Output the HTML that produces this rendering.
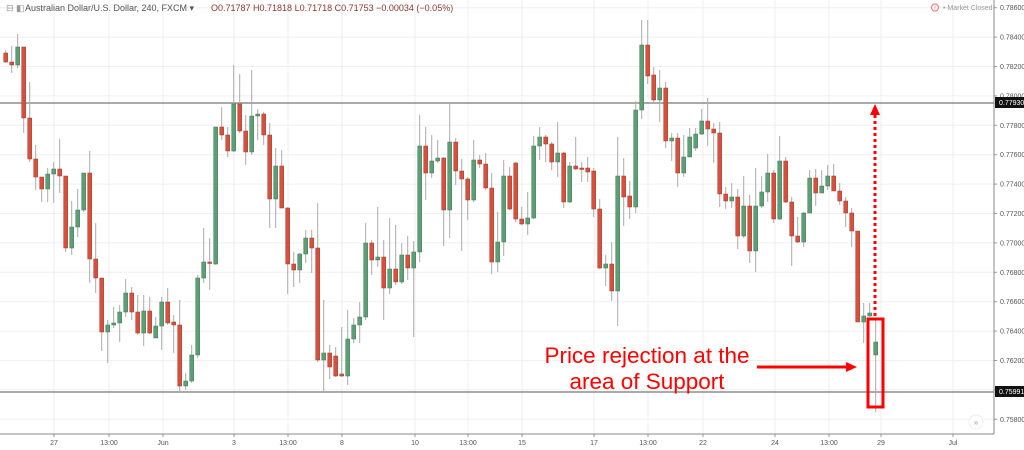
<!DOCTYPE html>
<html><head><meta charset="utf-8"><style>
body{margin:0;background:#fff;width:1024px;height:450px;overflow:hidden;font-family:"Liberation Sans",sans-serif}
svg{display:block}
</style></head><body>
<svg id="s" width="1024" height="450" xmlns="http://www.w3.org/2000/svg" font-family="Liberation Sans, sans-serif"></svg>
<script>
var d=[[53,62,50,63],[62,65,46,73],[65,47,34,68],[47,118,47,133],[118,159,82,162],[159,177,145,190],[177,189,177,202],[189,174,168,202],[174,169,162,203],[169,176,139,193],[176,248,176,252],[248,227,201,255],[227,210,189,237],[210,173,173,212],[173,259,151,283],[259,278,223,293],[278,332,278,351],[332,325,320,363],[325,323,307,328],[323,312,305,342],[312,293,279,317],[293,312,287,320],[312,333,295,335],[333,311,295,346],[311,333,297,334],[338,326,317,338],[326,302,297,350],[302,323,288,325],[322,325,315,353],[325,386,300,392],[386,381,373,390],[381,355,345,383],[355,278,275,358],[278,262,228,283],[262,263,238,290],[264,127,127,265],[127,135,107,140],[135,151,127,157],[151,104,65,152],[104,131,74,133],[131,152,115,165],
[152,116,70,155],[116,114,109,140],[114,135,112,145],[135,199,123,228],[199,166,148,228],[166,208,150,208],[208,264,207,294],[264,270,252,287],[270,254,253,283],[254,238,230,263],[238,248,230,273],[248,360,203,362],[360,353,300,392],[353,367,345,379],[356,376,347,377],[374,376,327,377],[376,339,310,385],[339,325,318,343],[325,317,302,343],[317,243,223,320],[243,260,240,275],[260,257,207,267],[257,288,240,320],[288,269,218,294],[269,282,225,285],[282,255,243,284],[255,268,236,280],[268,252,241,337],[252,146,115,262],[146,173,127,200],[173,161,135,178],[161,158,140,163],[158,210,157,246],[210,142,103,238],[142,171,138,185],[171,179,159,251],[179,200,177,220],[200,160,140,202],[160,164,155,168],
[164,188,153,190],[188,262,173,274],[262,242,212,272],[242,176,160,256],[176,209,167,210],[163,219,162,222],[219,224,207,225],[224,218,192,235],[218,146,136,219],[146,137,127,160],[137,144,135,162],[144,162,142,170],[162,153,122,177],[153,202,152,208],[202,166,162,203],[166,169,137,170],[168,169,162,182],[168,172,157,182],[171,209,168,217],[209,268,199,269],[268,264,255,286],[264,291,242,301],[291,176,137,326],[176,197,158,226],[196,207,181,219],[207,110,101,213],[110,45,20,119],[45,76,20,84],[75,100,67,103],[100,88,70,122],[88,141,82,148],[141,138,133,161],[138,173,133,187],[173,157,135,177],[157,137,128,157],[148,134,128,151],[134,121,109,135],[121,129,98,146],[129,133,123,163],[133,194,122,207],[194,201,187,209],
[201,197,183,208],[197,236,189,249],[236,206,176,238],[206,251,195,263],[251,206,168,272],[206,192,176,208],[192,173,154,202],[173,219,170,223],[219,161,136,220],[161,202,157,203],[202,236,197,266],[236,242,217,243],[242,213,212,247],[213,178,170,213],[178,193,169,206],[193,186,170,193],[186,176,165,190],[176,191,164,191],[191,201,183,205],[201,213,197,227],[213,231,208,247],[231,322,231,322],[322,316,303,343],[316,313,303,317],[355,342,320,412]];
var s='';
var W=1024,ax=994,bot=434;
for(var i=0;i<15;i++){var y=7.7+i*29.4;s+='<line x1="0" x2="'+ax+'" y1="'+y+'" y2="'+y+'" stroke="#efefef"/>';
var p=(0.786-i*0.002).toFixed(5);s+='<text x="1000" y="'+(y+2.5)+'" font-size="7" fill="#555">'+p+'</text>';s+='<line x1="'+ax+'" x2="'+(ax+3)+'" y1="'+y+'" y2="'+y+'" stroke="#999"/>';}
var xt=[[54,'27'],[109,'13:00'],[163,'Jun'],[234,'3'],[288,'13:00'],[342,'8'],[415,'10'],[468,'13:00'],[522,'15'],[594,'17'],[648,'13:00'],[703,'22'],[775,'24'],[829,'13:00'],[881,'29'],[953,'Jul']];
xt.forEach(function(t){s+='<line x1="'+t[0]+'" x2="'+t[0]+'" y1="0" y2="'+bot+'" stroke="#efefef"/>';s+='<text x="'+t[0]+'" y="445" font-size="7" fill="#555" text-anchor="middle">'+t[1]+'</text>';s+='<line x1="'+t[0]+'" x2="'+t[0]+'" y1="'+bot+'" y2="'+(bot+3)+'" stroke="#999"/>';});
s+='<line x1="0" x2="'+ax+'" y1="103" y2="103" stroke="#555"/>';
s+='<line x1="0" x2="'+ax+'" y1="392" y2="392" stroke="#555"/>';
d.forEach(function(c,k){var x=5.7+6*k;var g=c[1]<c[0];var col=g?'#5c9e76':'#d5513e';
s+='<line x1="'+x+'" x2="'+x+'" y1="'+c[2]+'" y2="'+c[3]+'" stroke="#aaa" stroke-width="1"/>';
var t=Math.min(c[0],c[1]),h=Math.max(Math.abs(c[1]-c[0]),1.5);
s+='<rect x="'+(x-2)+'" y="'+t+'" width="4" height="'+h+'" fill="'+col+'" stroke="'+(g?'#3f7a55':'#a8392a')+'" stroke-width="0.5"/>';});
s+='<line x1="'+ax+'" x2="'+ax+'" y1="0" y2="'+bot+'" stroke="#888"/>';
s+='<line x1="0" x2="'+ax+'" y1="'+bot+'" y2="'+bot+'" stroke="#888"/>';
s+='<rect x="995" y="97" width="29" height="11" fill="#111"/><text x="999" y="105" font-size="7" fill="#fff">0.77930</text>';
s+='<rect x="995" y="386" width="29" height="11" fill="#111"/><text x="999" y="394" font-size="7" fill="#fff">0.75991</text>';
s+='<text x="6" y="11" font-size="9" fill="#999">⊟ ◧</text><text x="25" y="11" font-size="9" fill="#555">Australian Dollar/U.S. Dollar, 240, FXCM ▾</text>';
s+='<text x="211" y="11" font-size="9" fill="#8b3a2e">O0.71787  H0.71818  L0.71718  C0.71753  −0.00034 (−0.05%)</text>';
s+='<circle cx="935" cy="7.5" r="3.5" fill="none" stroke="#f07070"/><text x="935" y="10" font-size="6" fill="#f07070" text-anchor="middle">!</text><text x="943" y="10" font-size="7" fill="#999">• Market Closed</text>';
s+='<circle cx="976" cy="422" r="7" fill="#fff" stroke="#eee"/><text x="976" y="425" font-size="8" fill="#999" text-anchor="middle">»</text>';
s+='<rect x="868" y="319" width="15" height="88" fill="none" stroke="#f00" stroke-width="3"/>';
s+='<line x1="875" x2="875" y1="316" y2="114" stroke="#f00" stroke-width="3" stroke-dasharray="3,3"/>';
s+='<polygon points="875,104 870,115 880,115" fill="#f00"/>';
s+='<text x="647" y="363" font-size="22.5" fill="#f00" text-anchor="middle">Price rejection at the</text>';
s+='<text x="647" y="389" font-size="22.5" fill="#f00" text-anchor="middle">area of Support</text>';
s+='<line x1="757" x2="848" y1="367" y2="367" stroke="#f00" stroke-width="3"/><polygon points="857,367 846,362 846,372" fill="#f00"/>';
document.getElementById('s').innerHTML=s;
</script>
</body></html>
